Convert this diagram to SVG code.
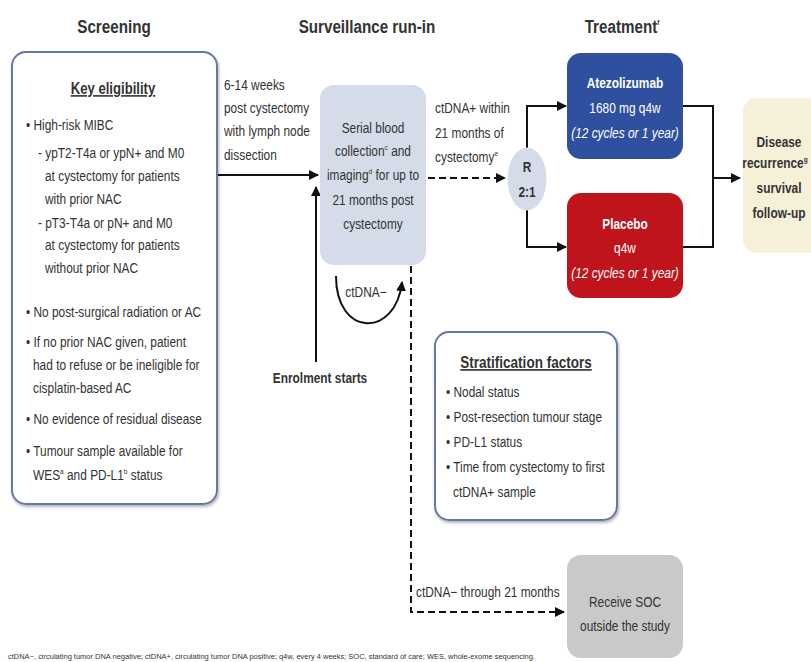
<svg xmlns="http://www.w3.org/2000/svg" width="811" height="662" viewBox="0 0 811 662">
<defs>
<marker id="ah" viewBox="0 0 10 10" refX="9" refY="5" markerWidth="10" markerHeight="10" markerUnits="userSpaceOnUse" orient="auto"><path d="M0,0 L10,5 L0,10 z" fill="#111"/></marker>
<filter id="sh" x="-10%" y="-10%" width="120%" height="120%"><feDropShadow dx="1" dy="2" stdDeviation="1.5" flood-color="#000" flood-opacity="0.3"/></filter>
</defs>
<style>
text{font-family:"Liberation Sans",Arial,sans-serif;fill:#333;}
.t{font-size:19px;font-weight:bold;text-anchor:middle;fill:#333;}
.b{font-size:14.5px;}
.c{text-anchor:middle;}
.bold{font-weight:bold;}
.w{fill:#fff;}
.it{font-style:italic;}
.sup{font-size:8px;}
.ln{stroke:#111;stroke-width:2;fill:none;}
.dash{stroke:#111;stroke-width:2;fill:none;stroke-dasharray:7 4;}
.frame{fill:#fff;stroke:#6b76a5;stroke-width:2;}
</style>
<rect width="811" height="662" fill="#fff"/>

<g id="titles">
<text class="t" transform="translate(114 33) scale(0.8 1)">Screening</text>
<text class="t" transform="translate(367 33) scale(0.8 1)">Surveillance run-in</text>
<text class="t" transform="translate(622 33) scale(0.8 1)">Treatment<tspan class="sup" dy="-8">f</tspan></text>
</g>

<g id="connectors">
<line class="ln" x1="217" y1="175" x2="318" y2="175" marker-end="url(#ah)"/>
<line class="ln" x1="316" y1="362" x2="316" y2="187" marker-end="url(#ah)"/>
<path class="ln" d="M336 276 C336 338, 396 338, 402 282" marker-end="url(#ah)"/>
<line class="dash" x1="428" y1="178" x2="505" y2="178" marker-end="url(#ah)"/>
<path class="dash" d="M411 266 V612 H564" marker-end="url(#ah)"/>
<path class="ln" d="M527 148 V106 H566" marker-end="url(#ah)"/>
<path class="ln" d="M527 210 V247 H566" marker-end="url(#ah)"/>
<path class="ln" d="M683 106 H713 V247 H683"/>
<line class="ln" x1="713" y1="178" x2="740" y2="178" marker-end="url(#ah)"/>
</g>

<g id="eligibility">
<rect class="frame" x="12" y="52" width="205" height="452" rx="14" filter="url(#sh)"/>
<text class="c bold" font-size="16" text-decoration="underline" transform="translate(113 94) scale(0.82 1)">Key eligibility</text>
<g class="b">
<text transform="translate(26 130) scale(0.82 1)">• High-risk MIBC</text>
<text transform="translate(38 158) scale(0.82 1)">- ypT2-T4a or ypN+ and M0</text>
<text transform="translate(45 181) scale(0.82 1)">at cystectomy for patients</text>
<text transform="translate(45 204) scale(0.82 1)">with prior NAC</text>
<text transform="translate(38 228) scale(0.82 1)">- pT3-T4a or pN+ and M0</text>
<text transform="translate(45 250) scale(0.82 1)">at cystectomy for patients</text>
<text transform="translate(45 273) scale(0.82 1)">without prior NAC</text>
<text transform="translate(26 317) scale(0.82 1)">• No post-surgical radiation or AC</text>
<text transform="translate(26 347) scale(0.82 1)">• If no prior NAC given, patient</text>
<text transform="translate(33 370) scale(0.82 1)">had to refuse or be ineligible for</text>
<text transform="translate(33 393) scale(0.82 1)">cisplatin-based AC</text>
<text transform="translate(26 424) scale(0.82 1)">• No evidence of residual disease</text>
<text transform="translate(26 456) scale(0.82 1)">• Tumour sample available for</text>
<text transform="translate(33 480) scale(0.82 1)">WES<tspan class="sup" dy="-6">a</tspan><tspan dy="6"> and PD-L1</tspan><tspan class="sup" dy="-6">b</tspan><tspan dy="6"> status</tspan></text>
</g>
</g>

<g id="label-postcyst" class="b">
<text transform="translate(224 90) scale(0.82 1)">6-14 weeks</text>
<text transform="translate(224 113) scale(0.82 1)">post cystectomy</text>
<text transform="translate(224 136) scale(0.82 1)">with lymph node</text>
<text transform="translate(224 160) scale(0.82 1)">dissection</text>
</g>

<g id="surveillance">
<rect x="320" y="85" width="106" height="180" rx="14" fill="#d4dce9"/>
<g class="b c">
<text transform="translate(373 133) scale(0.82 1)">Serial blood</text>
<text transform="translate(373 156) scale(0.82 1)">collection<tspan class="sup" dy="-6">c</tspan><tspan dy="6"> and</tspan></text>
<text transform="translate(373 180) scale(0.82 1)">imaging<tspan class="sup" dy="-6">d</tspan><tspan dy="6"> for up to</tspan></text>
<text transform="translate(373 205) scale(0.82 1)">21 months post</text>
<text transform="translate(373 229) scale(0.82 1)">cystectomy</text>
</g>
</g>

<g id="label-ctdna-neg">
<text class="b c" transform="translate(366 297) scale(0.82 1)">ctDNA−</text>
</g>

<g id="enrolment">
<text class="b c bold" transform="translate(320 383) scale(0.82 1)">Enrolment starts</text>
</g>

<g id="label-ctdna-pos" class="b">
<text transform="translate(435 113) scale(0.82 1)">ctDNA+ within</text>
<text transform="translate(435 138) scale(0.82 1)">21 months of</text>
<text transform="translate(435 162) scale(0.82 1)">cystectomy<tspan class="sup" dy="-6">e</tspan></text>
</g>

<g id="randomise">
<ellipse cx="527" cy="179" rx="19.5" ry="31.5" fill="#d4dce9"/>
<text class="b c bold" transform="translate(527 172) scale(0.82 1)">R</text>
<text class="b c bold" transform="translate(527 197) scale(0.82 1)">2:1</text>
</g>

<g id="atezolizumab">
<rect x="567" y="53" width="116" height="106" rx="14" fill="#2f4f9f"/>
<text class="b c bold w" transform="translate(625 88) scale(0.82 1)">Atezolizumab</text>
<text class="b c w" transform="translate(625 113) scale(0.82 1)">1680 mg q4w</text>
<text class="b c w it" transform="translate(625 138) scale(0.82 1)">(12 cycles or 1 year)</text>
</g>

<g id="placebo">
<rect x="567" y="193" width="116" height="105" rx="14" fill="#c0141d"/>
<text class="b c bold w" transform="translate(625 229) scale(0.82 1)">Placebo</text>
<text class="b c w" transform="translate(625 253) scale(0.82 1)">q4w</text>
<text class="b c w it" transform="translate(625 278) scale(0.82 1)">(12 cycles or 1 year)</text>
</g>

<g id="followup">
<rect x="743" y="98" width="80" height="155" rx="14" fill="#f7f0d9"/>
<g class="b c bold">
<text transform="translate(779 147) scale(0.82 1)">Disease</text>
<text transform="translate(775 168) scale(0.82 1)">recurrence<tspan class="sup" dy="-6">g</tspan></text>
<text transform="translate(779 193) scale(0.82 1)">survival</text>
<text transform="translate(779 218) scale(0.82 1)">follow-up</text>
</g>
</g>

<g id="stratification">
<rect class="frame" x="435" y="332" width="182" height="188" rx="14" filter="url(#sh)"/>
<text class="c bold" font-size="16.5" text-decoration="underline" transform="translate(526 368) scale(0.82 1)">Stratification factors</text>
<g class="b">
<text transform="translate(446 397) scale(0.82 1)">• Nodal status</text>
<text transform="translate(446 422) scale(0.82 1)">• Post-resection tumour stage</text>
<text transform="translate(446 447) scale(0.82 1)">• PD-L1 status</text>
<text transform="translate(446 472) scale(0.82 1)">• Time from cystectomy to first</text>
<text transform="translate(453 497) scale(0.82 1)">ctDNA+ sample</text>
</g>
</g>

<g id="label-ctdna-21">
<text class="b" transform="translate(416 597) scale(0.82 1)">ctDNA− through 21 months</text>
</g>

<g id="soc">
<rect x="567" y="555" width="116" height="103" rx="14" fill="#c9c9c9"/>
<text class="b c" transform="translate(625 607) scale(0.82 1)">Receive SOC</text>
<text class="b c" transform="translate(625 631) scale(0.82 1)">outside the study</text>
</g>

<g id="footnote">
<text x="8" y="659" font-size="7" textLength="527" lengthAdjust="spacingAndGlyphs" fill="#555">ctDNA−, circulating tumor DNA negative; ctDNA+, circulating tumor DNA positive; q4w, every 4 weeks; SOC, standard of care; WES, whole-exome sequencing.</text>
</g>
</svg>
